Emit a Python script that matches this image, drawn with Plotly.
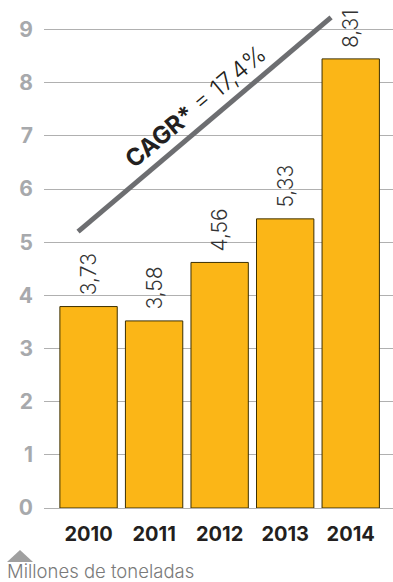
import plotly.graph_objects as go

years = ["2010", "2011", "2012", "2013", "2014"]
bar_heights = [3.79, 3.52, 4.62, 5.44, 8.45]
value_labels = ["3,73", "3,58", "4,56", "5,33", "8,31"]
y_ticks = [0, 1, 2, 3, 4, 5, 6, 7, 8, 9]
cagr_text = "<b>CAGR*</b> = 17,4%"
unit_text = "Millones de toneladas"

FONT = "Inter"

# plot area geometry (pixels)
W, H = 393, 582
L, R, T, B = 44, 0, 10, 74
pw, ph = W - L - R, H - T - B

fig = go.Figure()
fig.add_trace(go.Bar(
    x=list(range(len(years))), y=bar_heights,
    marker=dict(color="#FBB617", line=dict(color="#3d3000", width=1)),
    hoverinfo="skip",
))

for i, (h, lab) in enumerate(zip(bar_heights, value_labels)):
    fig.add_annotation(
        x=i, y=h, xref="x", yref="y", text=lab, showarrow=False,
        textangle=-90, yanchor="bottom", xanchor="center", yshift=9,
        font=dict(family=FONT, size=21, color="#333333", weight=300),
    )

# CAGR trend line and text
fig.add_shape(type="line", xref="x", yref="y", x0=-0.16, y0=5.2, x1=3.70, y1=9.23,
              line=dict(color="#6d6e71", width=5))
fig.add_annotation(x=1.63, y=7.56, xref="x", yref="y", text=cagr_text, showarrow=False,
                   textangle=-40, xanchor="center", yanchor="middle",
                   font=dict(family=FONT, size=24, color="#231f20", weight=300))

# unit triangle and label
def px(xp):
    return (xp - L) / pw
def py(yp):
    return (H - B - yp) / ph

fig.add_shape(type="path", xref="paper", yref="paper",
              path=f"M {px(7)} {py(562)} L {px(33)} {py(562)} L {px(20)} {py(550)} Z",
              fillcolor="#a0a0a0", line=dict(width=0))
fig.add_annotation(x=px(5), y=py(584), xref="paper", yref="paper", text=unit_text,
                   showarrow=False, xanchor="left", yanchor="bottom",
                   font=dict(family=FONT, size=18.5, color="#7a7a7a", weight=300))

fig.update_layout(
    width=W, height=H, margin=dict(l=L, r=R, t=T, b=B, pad=0),
    paper_bgcolor="white", plot_bgcolor="white", showlegend=False,
    bargap=0.125,
    xaxis=dict(range=[-0.68, 4.645], tickvals=list(range(len(years))), ticktext=years,
               showgrid=False, zeroline=False, showline=False, ticks="", ticklabelstandoff=12,
               tickfont=dict(family=FONT, size=20, color="#231f20", weight="bold")),
    yaxis=dict(range=[0, (H - T - B) / 53.15], tickvals=y_ticks, showgrid=True,
               gridcolor="#b0b0b0", gridwidth=1.3, zeroline=True, zerolinecolor="#b0b0b0",
               zerolinewidth=1.3, showline=False, ticks="", ticklabelstandoff=10,
               tickfont=dict(family=FONT, size=21, color="#a7a9ac", weight="bold")),
)

fig.write_html("out.html")
